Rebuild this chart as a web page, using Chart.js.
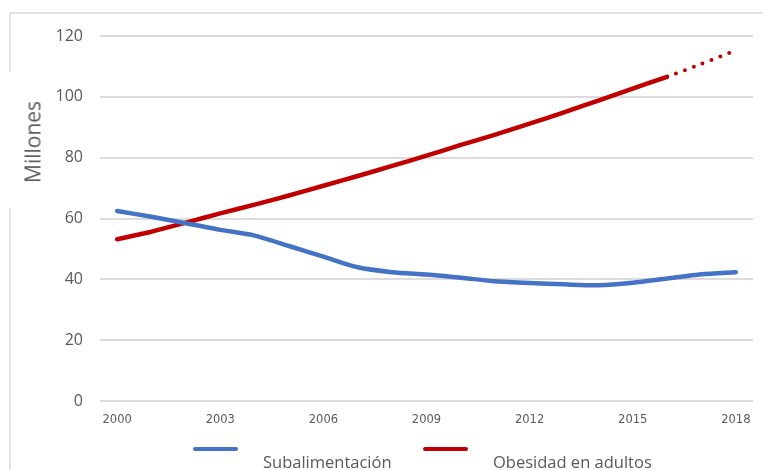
<!DOCTYPE html>
<html>
<head>
<meta charset="utf-8">
<script src="https://cdn.jsdelivr.net/npm/chart.js@4"></script>
<style>
  html, body { margin: 0; padding: 0; background: #fff; }
  #wrap { position: relative; width: 763px; height: 470px; }
  #chart { position: absolute; left: 0; top: 0; }
  #ytitle {
    position: absolute; left: 33px; top: 142px;
    transform: translate(-50%, -50%) rotate(-90deg);
    font-family: "Open Sans", sans-serif; font-size: 21px; color: #595959;
    white-space: nowrap; line-height: 1;
  }
  .leg-item { position: absolute; top: 447px; height: 30px; }
  .leg-line { position: absolute; left: 0; top: 0; width: 45px; height: 4px; border-radius: 2px; }
  .leg-text {
    position: absolute; left: 70px; top: 5px; white-space: nowrap;
    font-family: "Open Sans", sans-serif; font-size: 16.5px; color: #595959; line-height: 20px;
  }
</style>
</head>
<body>
<div id="wrap">
  <canvas id="chart" width="763" height="470"></canvas>
  <div id="ytitle">Millones</div>
  <div id="legend"></div>
</div>
<script>
// Years on the horizontal axis
const years = [2000, 2001, 2002, 2003, 2004, 2005, 2006, 2007, 2008, 2009,
               2010, 2011, 2012, 2013, 2014, 2015, 2016, 2017, 2018];

// Millions of people
const subalimentacion = [62.5, 60.6, 58.5, 56.3, 54.4, 51.0, 47.5, 44.0, 42.4, 41.6,
                         40.6, 39.4, 38.8, 38.4, 38.1, 38.9, 40.3, 41.7, 42.4];
const obesidadAdultos = [53.2, 55.7, 58.7, 61.7, 64.6, 67.6, 70.8, 74.0, 77.3, 80.7,
                         84.2, 87.6, 91.2, 94.9, 98.8, 102.7, 106.6, 110.8, 115.3];

// Last observed year of the obesity series; later years are projections (dotted)
const lastObservedIndex = 16;

const yTicks = [0, 20, 40, 60, 80, 100, 120];
const yAxisTitle = 'Millones';
const seriesNames = ['Subalimentación', 'Obesidad en adultos'];
const seriesColors = ['#4472C4', '#C00000'];

const gray = '#595959';
const gridGray = '#dcdcdc';

// Thin frame around the plot, interrupted by the axis title box
const framePlugin = {
  id: 'frame',
  beforeDraw(chart) {
    const c = chart.ctx;
    c.save();
    c.strokeStyle = '#d9d9d9';
    c.lineWidth = 1.5;
    c.beginPath();
    c.moveTo(10, 13); c.lineTo(763, 13);
    c.moveTo(10, 13); c.lineTo(10, 72);
    c.moveTo(10, 208); c.lineTo(10, 470);
    c.stroke();
    c.restore();
  }
};

const chart = new Chart(document.getElementById('chart'), {
  type: 'line',
  data: {
    labels: years.map(String),
    datasets: [
      {
        label: seriesNames[0],
        data: subalimentacion,
        borderColor: seriesColors[0],
        borderWidth: 4.5,
        pointRadius: 0,
        tension: 0.25,
        borderCapStyle: 'round',
        borderJoinStyle: 'round'
      },
      {
        label: seriesNames[1],
        data: obesidadAdultos,
        borderColor: seriesColors[1],
        borderWidth: 4.5,
        pointRadius: 0,
        tension: 0.1,
        borderCapStyle: 'round',
        borderJoinStyle: 'round',
        segment: {
          borderDash: ctx => ctx.p0DataIndex >= lastObservedIndex ? [0, 9.5] : undefined,
          borderWidth: ctx => ctx.p0DataIndex >= lastObservedIndex ? 4 : undefined
        }
      }
    ]
  },
  options: {
    responsive: false,
    animation: false,
    layout: { padding: { top: 36, right: 10, bottom: 39, left: 0 } },
    plugins: {
      legend: { display: false },
      tooltip: { enabled: false }
    },
    scales: {
      x: {
        offset: true,
        grid: { display: false },
        border: { display: false },
        ticks: {
          autoSkip: false,
          maxRotation: 0,
          padding: 4,
          color: gray,
          font: { family: 'DejaVu Sans', size: 11.5 },
          callback: function (val, idx) {
            return idx % 3 === 0 ? this.getLabelForValue(val) : '';
          }
        }
      },
      y: {
        min: 0,
        max: 120,
        afterBuildTicks: scale => { scale.ticks = yTicks.map(v => ({ value: v })); },
        afterFit: scale => { scale.width = 100; },
        grid: { color: gridGray, lineWidth: 2, drawTicks: false },
        border: { display: false },
        ticks: {
          padding: 17,
          color: gray,
          font: { family: 'Open Sans', size: 16 }
        }
      }
    }
  },
  plugins: [framePlugin]
});

// Axis title and legend as page text
document.getElementById('ytitle').textContent = yAxisTitle;
const legendLeft = [193, 423];
const legend = document.getElementById('legend');
chart.data.datasets.forEach((ds, i) => {
  const item = document.createElement('div');
  item.className = 'leg-item';
  item.style.left = legendLeft[i] + 'px';
  const line = document.createElement('div');
  line.className = 'leg-line';
  line.style.background = ds.borderColor;
  const text = document.createElement('div');
  text.className = 'leg-text';
  text.textContent = ds.label;
  item.appendChild(line);
  item.appendChild(text);
  legend.appendChild(item);
});
</script>
</body>
</html>
